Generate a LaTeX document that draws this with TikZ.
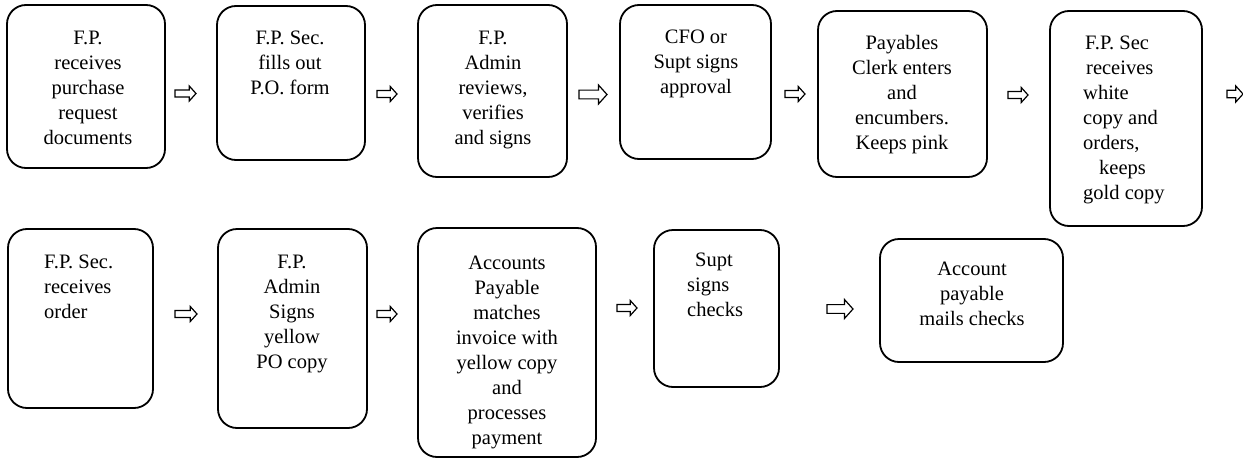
\documentclass[tikz,border=0pt]{standalone}
\usepackage{fontspec}
\setmainfont{Liberation Serif}
\newcommand\blockarr[5]{%
  \coordinate (#1) at (#2,#3);
  \draw[arrowline] (#1) ++(0,{-0.46*#5}) -- ++({#4-0.9*#5},0) -- ++(0,{-0.54*#5}) -- ++({0.9*#5},{#5}) -- ++({-0.9*#5},{#5}) -- ++(0,{-0.54*#5}) -- ++({-(#4-0.9*#5)},0) -- cycle;}
\newcommand\tp{\rule{0pt}{15pt}}
\begin{document}
\begin{tikzpicture}[x=1pt,y=-1pt,
  box/.style={draw, line width=1.8pt, rounded corners=19pt, inner sep=0pt, outer sep=0pt},
  txt/.style={font=\fontsize{20.5}{25}\selectfont, inner sep=0pt, yshift=15pt},
  ltxt/.style={txt, align=left, anchor=north west},
  ctxt/.style={txt, align=center, anchor=north},
  arrowline/.style={draw, line width=1.2pt, line join=miter, fill=white}]
\useasboundingbox (0,0) rectangle (1243,466);
% row 1 boxes
\node[box, minimum width=158pt, minimum height=163pt] (b1) at (86,86.5) {};
\node[box, minimum width=148pt, minimum height=154pt] (b2) at (291,83) {};
\node[box, minimum width=149pt, minimum height=172pt] (b3) at (492.5,91) {};
\node[box, minimum width=151pt, minimum height=154pt] (b4) at (695.5,82) {};
\node[box, minimum width=169pt, minimum height=166pt] (b5) at (902.5,94) {};
\node[box, minimum width=152pt, minimum height=215pt] (b6) at (1126,118.5) {};
% row 2 boxes
\node[box, minimum width=145pt, minimum height=179pt] (b7) at (80.5,318.5) {};
\node[box, minimum width=149pt, minimum height=199pt] (b8) at (292.5,328.5) {};
\node[box, minimum width=178pt, minimum height=229pt] (b9) at (507,342.5) {};
\node[box, minimum width=125pt, minimum height=157pt] (b10) at (716.5,308.5) {};
\node[box, minimum width=183pt, minimum height=123pt] (b11) at (971.5,300.5) {};
% texts (position = baseline of first line)
\node[ctxt] (t1) at (88,44) {\tp F.P.\\receives\\purchase\\request\\documents};
\node[ctxt] (t2) at (290,44) {\tp F.P. Sec.\\fills out\\P.O. form};
\node[ctxt] (t3) at (493,44) {\tp F.P.\\Admin\\reviews,\\verifies\\and signs};
\node[ctxt] (t4) at (696,43) {\tp CFO or\\Supt signs\\approval};
\node[ctxt] (t5) at (902,49) {\tp Payables\\Clerk enters\\and\\encumbers.\\Keeps pink};
\node[ltxt] (t6) at (1083,49) {\tp\hspace*{2pt}F.P. Sec\\\hspace*{3pt}receives\\white\\copy and\\orders,\\\hspace*{16pt}keeps\\gold copy};
\node[ltxt] (t7) at (44,268) {\tp F.P. Sec.\\receives\\order};
\node[ctxt] (t8) at (292,268) {\tp F.P.\\Admin\\Signs\\yellow\\PO copy};
\node[ctxt] (t9) at (507,269) {\tp Accounts\\Payable\\matches\\invoice with\\yellow copy\\and\\processes\\payment};
\node[ltxt] (t10) at (687,266) {\tp\hspace*{8pt}Supt\\signs\\checks};
\node[ctxt] (t11) at (972,275) {\tp Account\\payable\\mails checks};
% block arrows
\blockarr{a1}{175}{93.5}{21}{7.5}
\blockarr{a2}{377}{94}{20}{7.5}
\blockarr{a3}{579}{94.5}{28}{9.5}
\blockarr{a4}{785}{94}{20}{7.5}
\blockarr{a5}{1008}{95}{20}{7.5}
\blockarr{a6}{1227}{94}{16}{8}
\blockarr{a7}{175}{314}{22}{7.5}
\blockarr{a8}{377}{314}{20}{7.5}
\blockarr{a9}{617}{308}{20}{7.5}
\blockarr{a10}{827}{309}{26}{9.5}
\end{tikzpicture}
\end{document}
